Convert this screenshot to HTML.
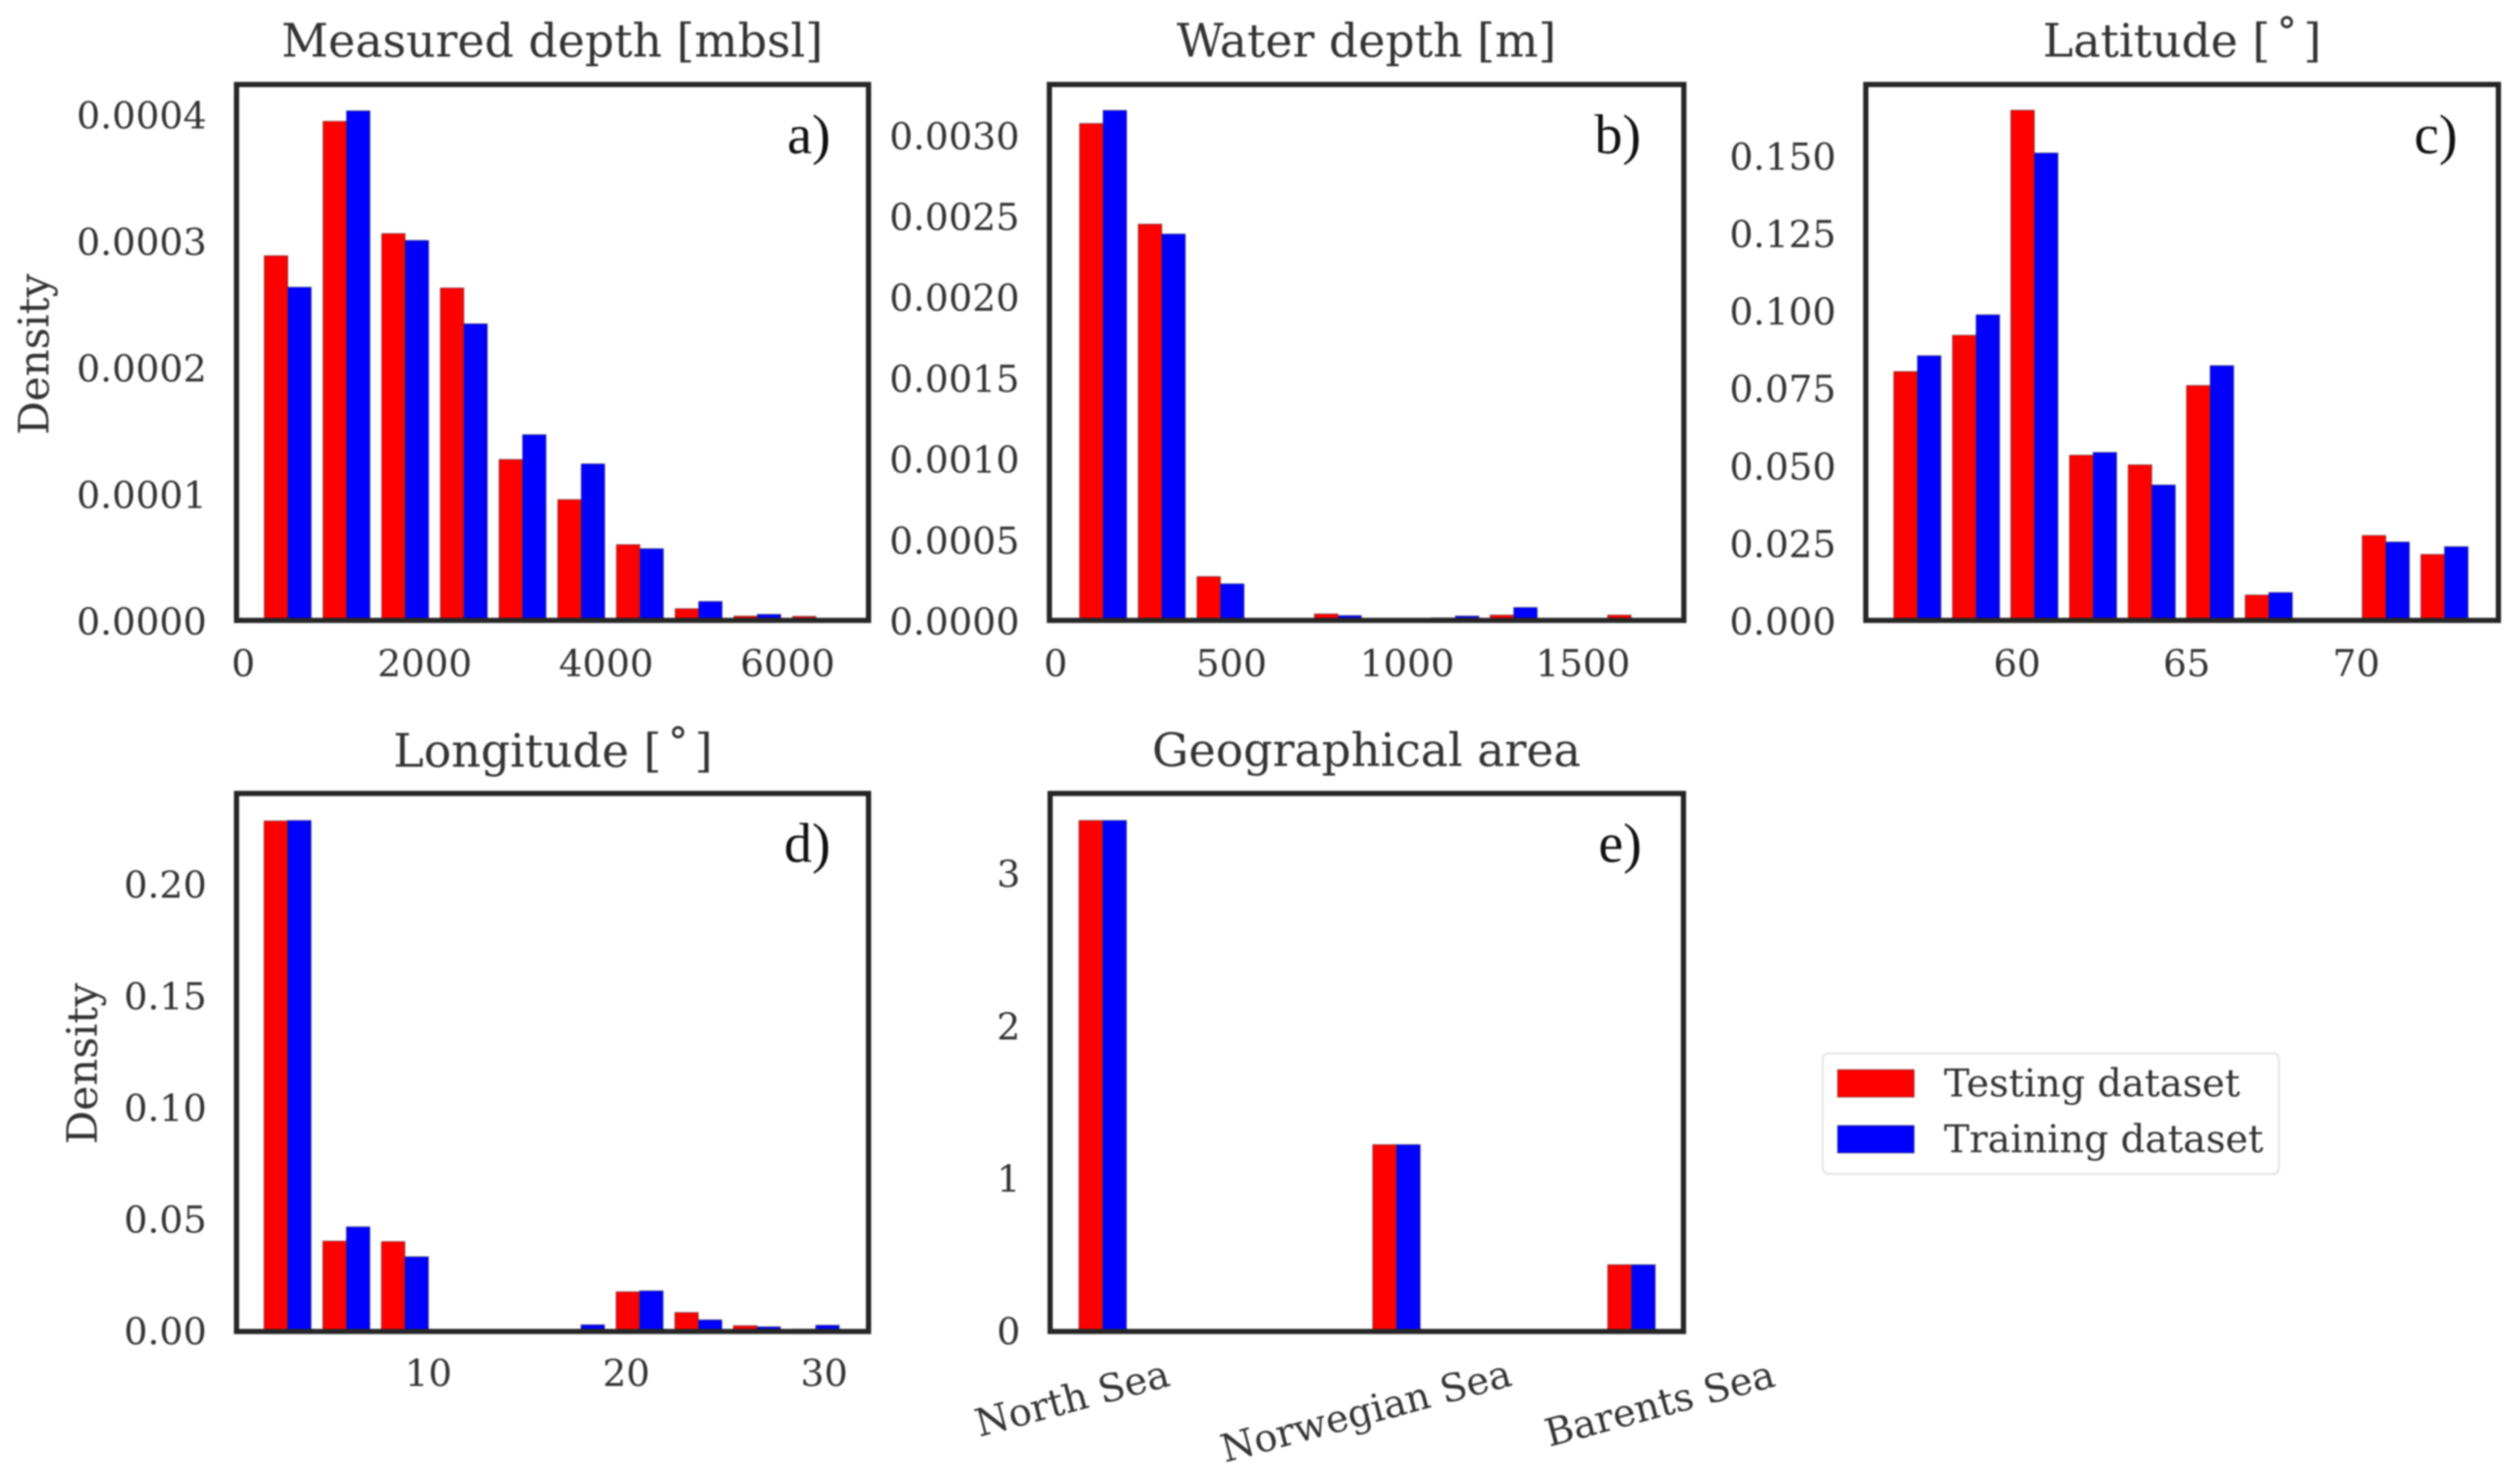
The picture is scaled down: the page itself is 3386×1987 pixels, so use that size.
<!DOCTYPE html>
<html lang="en">
<head>
<meta charset="utf-8">
<title>Dataset density histograms</title>
<style>
  html, body { margin: 0; padding: 0; background: #fff; }
  svg { display: block; filter: blur(1px); }
  text { font-family: "DejaVu Serif", "Liberation Serif", serif; fill: #333; }
  .title { font-size: 61.5px; text-anchor: middle; }
  .tick { font-size: 50px; }
  .cat { font-size: 51.5px; }
  .ylab { font-size: 56.5px; text-anchor: middle; }
  .tag { font-family: "Liberation Serif", serif; font-size: 75px; fill: #111; text-anchor: end; }
  .legend-text { font-size: 51.3px; }
  .frame { fill: none; stroke: #262626; stroke-width: 7; }
</style>
</head>
<body>
<svg id="figure" xmlns="http://www.w3.org/2000/svg" width="3386" height="1987" viewBox="0 0 3386 1987">
  <rect x="0" y="0" width="3386" height="1987" fill="#fff"/>

  <g id="panel-a">
    <g class="marks"></g>
    <rect class="frame" x="317.8" y="113.5" width="849.2" height="720"/>
    <text class="title" x="742" y="76">Measured depth [mbsl]</text>
    <text class="ylab" transform="translate(65 476) rotate(-90)">Density</text>
    <text class="tag" x="1116" y="206">a)</text>
  </g>

  <g id="panel-b">
    <g class="marks"></g>
    <rect class="frame" x="1410" y="113.5" width="852.5" height="720"/>
    <text class="title" x="1836" y="76">Water depth [m]</text>
    <text class="tag" x="2205" y="206">b)</text>
  </g>

  <g id="panel-c">
    <g class="marks"></g>
    <rect class="frame" x="2507" y="113.5" width="850" height="720"/>
    <text class="title" x="2932" y="76">Latitude [<tspan dx="7">˚</tspan><tspan dx="7">]</tspan></text>
    <text class="tag" x="3302" y="206">c)</text>
  </g>

  <g id="panel-d">
    <g class="marks"></g>
    <rect class="frame" x="317.8" y="1066" width="849.2" height="722.8"/>
    <text class="title" x="743" y="1030">Longitude [<tspan dx="7">˚</tspan><tspan dx="7">]</tspan></text>
    <text class="ylab" transform="translate(130 1429) rotate(-90)">Density</text>
    <text class="tag" x="1116" y="1158">d)</text>
  </g>

  <g id="panel-e">
    <g class="marks"></g>
    <rect class="frame" x="1411" y="1066" width="851" height="722.8"/>
    <text class="title" x="1836" y="1029">Geographical area</text>
    <text class="tag" x="2206" y="1158">e)</text>
  </g>

  <g id="legend">
    <rect x="2449" y="1415" width="613" height="162" rx="8" ry="8" fill="#fff" stroke="#e6e6e6" stroke-width="3"/>
    <rect x="2469" y="1437" width="103" height="37" fill="#ff0000" stroke="#444" stroke-opacity="0.6" stroke-width="1.2"/>
    <text class="legend-text" x="2612" y="1473">Testing dataset</text>
    <rect x="2469" y="1512" width="103" height="37" fill="#0000ff" stroke="#444" stroke-opacity="0.6" stroke-width="1.2"/>
    <text class="legend-text" x="2612" y="1548">Training dataset</text>
  </g>
</svg>

<script>
// Panel a: Measured depth
const depthBinCenters = [490, 1137, 1784, 2431, 3078, 3725, 4372, 5019, 5666, 6313];
const depthTesting = [0.0002882, 0.0003944, 0.0003057, 0.0002627, 0.0001272, 0.0000955, 0.0000599, 0.0000093, 0.0000034, 0.0000032];
const depthTraining = [0.0002633, 0.0004027, 0.0003003, 0.0002344, 0.0001468, 0.0001237, 0.0000567, 0.000015, 0.0000048, 0];
const depthXTicks = ["0", "2000", "4000", "6000"];
const depthYTicks = ["0.0000", "0.0001", "0.0002", "0.0003", "0.0004"];

// Panel b: Water depth
const waterBinCenters = [135, 302, 469, 636, 803, 970, 1137, 1303, 1470, 1637];
const waterTesting = [0.003071, 0.002449, 0.000271, 0, 0.00004, 0, 0.000016, 0.000033, 0, 0.000033];
const waterTraining = [0.003152, 0.002388, 0.000226, 0, 0.00003, 0, 0.000027, 0.00008, 0, 0];
const waterXTicks = ["0", "500", "1000", "1500"];
const waterYTicks = ["0.0000", "0.0005", "0.0010", "0.0015", "0.0020", "0.0025", "0.0030"];

// Panel c: Latitude
const latitudeBinCenters = [57.06, 58.79, 60.51, 62.24, 63.97, 65.69, 67.42, 69.15, 70.87, 72.6];
const latitudeTesting = [0.0803, 0.092, 0.1646, 0.0533, 0.0502, 0.0758, 0.0082, 0, 0.0274, 0.0213];
const latitudeTraining = [0.0854, 0.0986, 0.1508, 0.0542, 0.0437, 0.0822, 0.009, 0, 0.0253, 0.0238];
const latitudeXTicks = ["60", "65", "70"];
const latitudeYTicks = ["0.000", "0.025", "0.050", "0.075", "0.100", "0.125", "0.150"];

// Panel d: Longitude
const longitudeBinCenters = [2.88, 5.85, 8.81, 11.78, 14.74, 17.71, 20.67, 23.64, 26.6, 29.57];
const longitudeTesting = [0.2288, 0.0405, 0.0403, 0, 0, 0, 0.0178, 0.0085, 0.0026, 0.001];
const longitudeTraining = [0.229, 0.0469, 0.0335, 0, 0, 0.003, 0.0182, 0.0052, 0.0021, 0.0028];
const longitudeXTicks = ["10", "20", "30"];
const longitudeYTicks = ["0.00", "0.05", "0.10", "0.15", "0.20"];

// Panel e: Geographical area
const areaCategories = ["North Sea", "Norwegian Sea", "Barents Sea"];
const areaBinCenters = [0.1, 1.1, 1.9];
const areaTesting = [3.353, 1.226, 0.438];
const areaTraining = [3.353, 1.226, 0.438];
const areaYTicks = ["0", "1", "2", "3"];

const SVG_NS = 'http://www.w3.org/2000/svg';

function makeEl(tag, attrs) {
  const el = document.createElementNS(SVG_NS, tag);
  for (const key in attrs) el.setAttribute(key, attrs[key]);
  return el;
}

function drawPanel(panelId, cfg) {
  const panel = document.getElementById(panelId);
  const marks = panel.querySelector('.marks');
  const frame = panel.querySelector('.frame');
  const left = parseFloat(frame.getAttribute('x'));
  const top = parseFloat(frame.getAttribute('y'));
  const width = parseFloat(frame.getAttribute('width'));
  const height = parseFloat(frame.getAttribute('height'));
  const bottom = top + height;

  const xScale = function (v) { return left + (v - cfg.xMin) / (cfg.xMax - cfg.xMin) * width; };
  const yScale = function (v) { return bottom - v / cfg.yMax * height; };

  const barPx = xScale(cfg.barWidth) - xScale(0);

  cfg.centers.forEach(function (center, i) {
    const cx = xScale(center);
    const testY = yScale(cfg.testing[i]);
    const trainY = yScale(cfg.training[i]);

    const testBar = makeEl('rect', {
      x: cx - barPx, y: testY, width: barPx, height: bottom - testY,
      fill: '#ff0000', stroke: '#333', 'stroke-opacity': 0.55, 'stroke-width': 1.2
    });
    
    
    marks.appendChild(testBar);

    const trainBar = makeEl('rect', {
      x: cx, y: trainY, width: barPx, height: bottom - trainY,
      fill: '#0000ff', stroke: '#333', 'stroke-opacity': 0.55, 'stroke-width': 1.2
    });
    
    
    marks.appendChild(trainBar);
  });

  cfg.yTicks.forEach(function (label) {
    const t = makeEl('text', {
      class: 'tick', x: left - 40, y: yScale(parseFloat(label)) + cfg.tickDy, 'text-anchor': 'end'
    });
    t.textContent = label;
    
    
    panel.appendChild(t);
  });

  if (cfg.categories) {
    cfg.categories.forEach(function (label, i) {
      const t = makeEl('text', {
        class: 'cat', 'text-anchor': 'middle',
        transform: 'translate(' + (xScale(i) + 3) + ' ' + (bottom + cfg.catOffset[i]) + ') rotate(-15)'
      });
      t.textContent = label;
      
      
      panel.appendChild(t);
    });
  } else {
    cfg.xTicks.forEach(function (label) {
      const t = makeEl('text', {
        class: 'tick', x: xScale(parseFloat(label)), y: bottom + cfg.xTickDy, 'text-anchor': 'middle'
      });
      t.textContent = label;
      
      
      panel.appendChild(t);
    });
  }
}

drawPanel('panel-a', {
  centers: depthBinCenters, testing: depthTesting, training: depthTraining,
  xTicks: depthXTicks, yTicks: depthYTicks, tickDy: 19, xTickDy: 75,
  xMin: -75, xMax: 6892, yMax: 0.0004235, barWidth: 259
});
drawPanel('panel-b', {
  centers: waterBinCenters, testing: waterTesting, training: waterTraining,
  xTicks: waterXTicks, yTicks: waterYTicks, tickDy: 19, xTickDy: 75,
  xMin: -17.8, xMax: 1787, yMax: 0.003312, barWidth: 67
});
drawPanel('panel-c', {
  centers: latitudeBinCenters, testing: latitudeTesting, training: latitudeTraining,
  xTicks: latitudeXTicks, yTicks: latitudeYTicks, tickDy: 19, xTickDy: 75,
  xMin: 55.54, xMax: 74.19, yMax: 0.1729, barWidth: 0.696
});
drawPanel('panel-d', {
  centers: longitudeBinCenters, testing: longitudeTesting, training: longitudeTraining,
  xTicks: longitudeXTicks, yTicks: longitudeYTicks, tickDy: 17, xTickDy: 73,
  xMin: 0.3, xMax: 32.24, yMax: 0.2411, barWidth: 1.19
});
drawPanel('panel-e', {
  centers: areaBinCenters, testing: areaTesting, training: areaTraining,
  categories: areaCategories, catOffset: [107, 124, 114], yTicks: areaYTicks, tickDy: 17,
  xMin: -0.079, xMax: 2.077, yMax: 3.53, barWidth: 0.081
});
</script>
</body>
</html>
